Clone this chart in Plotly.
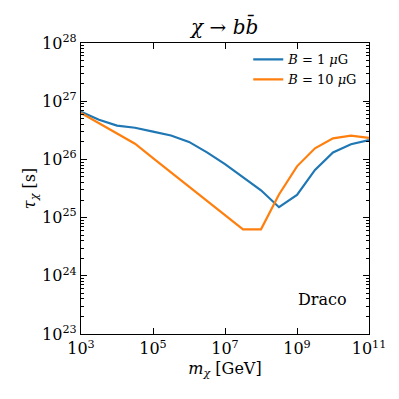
import plotly.graph_objects as go

# data (m_chi in GeV, tau in s)
mass = [1e3, 3.16e3, 1e4, 3.16e4, 1e5, 3.16e5, 1e6, 3.16e6, 1e7, 3.16e7,
        1e8, 3.16e8, 1e9, 3.16e9, 1e10, 3.16e10, 1e11]
tau_b1 = [6.6e26, 4.8e26, 3.8e26, 3.5e26, 3.0e26, 2.57e26, 2.0e26, 1.32e26, 8.3e25,
          5.0e25, 2.95e25, 1.51e25, 2.45e25, 6.6e25, 1.32e26, 1.82e26, 2.14e26]
tau_b10 = [6.3e26, 4.2e26, 2.75e26, 1.86e26, 1.05e26, 6.0e25, 3.4e25, 1.95e25, 1.1e25,
           6.3e24, 6.3e24, 2.5e25, 7.6e25, 1.55e26, 2.3e26, 2.57e26, 2.34e26]

x_tickvals = [1e3, 1e5, 1e7, 1e9, 1e11]
x_ticktext = ["10<sup>3</sup>", "10<sup>5</sup>", "10<sup>7</sup>", "10<sup>9</sup>", "10<sup>11</sup>"]
y_tickvals = [1e23, 1e24, 1e25, 1e26, 1e27, 1e28]
y_ticktext = ["10<sup>23</sup>", "10<sup>24</sup>", "10<sup>25</sup>", "10<sup>26</sup>",
              "10<sup>27</sup>", "10<sup>28</sup>"]
y_minor = [float(k) * 10.0 ** e for e in range(23, 28) for k in range(2, 10)]

FONT = "DejaVu Serif"

fig = go.Figure()
fig.add_trace(go.Scatter(x=mass, y=tau_b1, mode="lines", name="<i>B</i> = 1 <i>μ</i>G",
                         line=dict(color="#1f77b4", width=2.2)))
fig.add_trace(go.Scatter(x=mass, y=tau_b10, mode="lines", name="<i>B</i> = 10 <i>μ</i>G",
                         line=dict(color="#ff7f0e", width=2.2)))

fig.add_annotation(text="Draco", x=0.93, y=0.12, xref="paper", yref="paper",
                   xanchor="right", yanchor="middle", showarrow=False,
                   font=dict(family=FONT, size=16, color="black"))

axis_common = dict(showline=True, linecolor="black", linewidth=1.2, mirror="ticks",
                   ticks="inside", tickcolor="black", ticklen=6, tickwidth=1,
                   showgrid=False, zeroline=False,
                   tickfont=dict(family=FONT, size=16, color="black"))

fig.update_xaxes(type="log", range=[3, 11], tickvals=x_tickvals, ticktext=x_ticktext,
                 title=dict(text="<i>m</i><sub><i>χ</i></sub> [GeV]", standoff=5,
                            font=dict(family=FONT, size=16, color="black")),
                 **axis_common)
fig.update_yaxes(type="log", range=[23, 28], tickvals=y_tickvals, ticktext=y_ticktext,
                 minor=dict(ticks="inside", ticklen=3, tickcolor="black", showgrid=False,
                            tickvals=y_minor),
                 title=dict(text="<i>τ</i><sub><i>χ</i></sub> [s]", standoff=2,
                            font=dict(family=FONT, size=16, color="black")),
                 **axis_common)

# the page body has an 8px margin, so the plot area is offset by 8px
fig.update_layout(
    width=399, height=399,
    margin=dict(l=73, r=38, t=35, b=73),
    plot_bgcolor="white", paper_bgcolor="white",
    title=dict(text="<i>χ</i> → <i>b</i><i>b̄</i>", x=0.543, xanchor="center",
               y=0.952, yanchor="middle",
               font=dict(family=FONT, size=20, color="black")),
    legend=dict(x=0.98, y=0.995, xanchor="right", yanchor="top",
                bgcolor="rgba(255,255,255,0)", borderwidth=0,
                font=dict(family=FONT, size=13, color="black"),
                itemwidth=30, tracegroupgap=0),
    showlegend=True,
)

fig.write_html("out.html")
